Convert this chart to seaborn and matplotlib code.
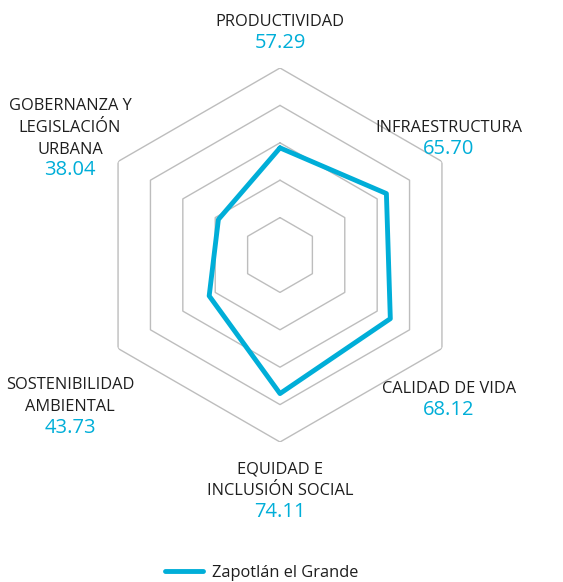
import numpy as np
import pandas as pd
import matplotlib.pyplot as plt
import seaborn as sns

# datos del indice por dimension (sentido horario desde arriba)
categorias = ["PRODUCTIVIDAD", "INFRAESTRUCTURA", "CALIDAD DE VIDA",
              "EQUIDAD E\nINCLUSIÓN SOCIAL", "SOSTENIBILIDAD\nAMBIENTAL",
              "GOBERNANZA Y\nLEGISLACIÓN\nURBANA"]
valores = [57.29, 65.70, 68.12, 74.11, 43.73, 38.04]
anillos = [20, 40, 60, 80, 100]
serie = "Zapotlán el Grande"

AZUL = "#00AED8"
GRIS = "#BDBDBD"
TEXTO = "#1E1E1E"

sns.set_style("white")
plt.rcParams["font.family"] = ["Open Sans", "DejaVu Sans"]

W, H = 563, 582
fig = plt.figure(figsize=(W / 100, H / 100), dpi=100)

# eje polar centrado en (280, 255) px con radio 187 px
cx, cy, rad = 280, 255, 187
ax = fig.add_axes([(cx - rad) / W, 1 - (cy + rad) / H, 2 * rad / W, 2 * rad / H],
                  projection="polar")
ax.set_theta_zero_location("N")
ax.set_theta_direction(-1)
ax.set_ylim(0, 100)
ax.grid(False)
ax.spines["polar"].set_visible(False)
ax.set_xticks([])
ax.set_yticks([])
ax.patch.set_alpha(0)

n = len(categorias)
ang = np.linspace(0, 2 * np.pi, n, endpoint=False)
ang_c = np.append(ang, ang[0])

# anillos hexagonales
for r in anillos:
    ax.plot(ang_c, [r] * (n + 1), color=GRIS, lw=1, zorder=1)

df = pd.DataFrame({"ang": ang_c, "valor": valores + [valores[0]]})
sns.lineplot(data=df, x="ang", y="valor", sort=False, estimator=None,
             color=AZUL, lw=3.5, ax=ax, label=serie, zorder=3)
ax.set_xlabel("")
ax.set_ylabel("")
ax.get_legend().remove()

# etiquetas: (x centro, y ultima linea) en px
pos_etiquetas = [(280, 22), (449, 128), (449, 389), (280, 491), (70, 407), (70, 149)]
salto = 21.5
for nombre, v, (x, y) in zip(categorias, valores, pos_etiquetas):
    nl = nombre.count("\n")
    yc = y - nl * salto / 2
    fig.text(x / W, 1 - yc / H, nombre, ha="center", va="center",
             fontsize=11.75, color=TEXTO, linespacing=1.5)
    fig.text(x / W, 1 - (y + 21) / H, f"{v:.2f}", ha="center", va="center",
             fontsize=14.5, color=AZUL)

h, l = ax.get_legend_handles_labels()
fig.legend(h, l, loc="center", bbox_to_anchor=(262 / W, 1 - 573 / H),
           frameon=False, fontsize=11.75, handlelength=2.3, handletextpad=0.6,
           labelcolor=TEXTO)

fig.savefig("out.png", dpi=100)
